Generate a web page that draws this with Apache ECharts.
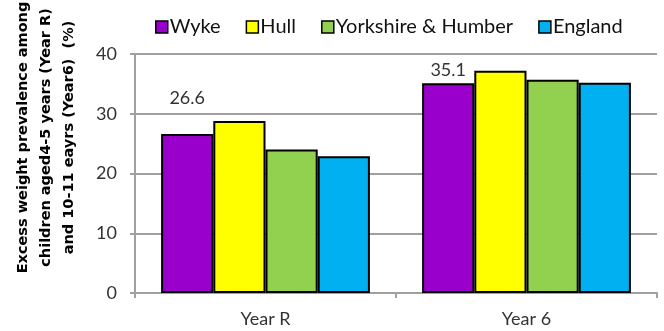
<!DOCTYPE html>
<html>
<head>
<meta charset="utf-8">
<script src="https://cdn.jsdelivr.net/npm/echarts@6/dist/echarts.min.js"></script>
<style>
  html, body { margin: 0; padding: 0; background: #fff; }
  #chart { width: 664px; height: 331px; }
</style>
</head>
<body>
<div id="chart"></div>
<script>
// Excess weight prevalence by area, Reception (Year R) and Year 6
const categories = ['Year R', 'Year 6'];
const seriesNames = ['Wyke', 'Hull', 'Yorkshire & Humber', 'England'];
const wyke = [26.6, 35.1];
const hull = [28.8, 37.2];
const yorkshire = [24.0, 35.7];
const england = [22.9, 35.2];
const yTicks = [0, 10, 20, 30, 40];

const colors = ['#9900CC', '#FFFF00', '#92D050', '#00B0F0'];
const values = [wyke, hull, yorkshire, england];
const font = 'Lato, "Open Sans", sans-serif';
const gridColor = '#A0A0A0';

const chart = echarts.init(document.getElementById('chart'));

const series = seriesNames.map((name, i) => ({
  name,
  type: 'bar',
  barGap: '0%',
  barCategoryGap: '20%',
  itemStyle: { color: colors[i], borderColor: '#000', borderWidth: 2 },
  data: values[i].map((v, j) => {
    if (i !== 0) return v;
    // Wyke values are annotated above the bars
    return {
      value: v,
      label: {
        show: true,
        position: 'top',
        distance: 4,
        offset: j === 0 ? [0, -23] : [0, 0],
        color: '#333',
        fontSize: 18,
        fontFamily: font
      }
    };
  })
}));

chart.setOption({
  animation: false,
  color: colors,
  grid: { left: 135, right: 7, top: 54, bottom: 38, containLabel: false, outerBoundsMode: 'none' },
  legend: {
    data: seriesNames,
    top: 12,
    left: 150,
    itemGap: 25,
    itemWidth: 12,
    itemHeight: 12,
    icon: 'rect',
    itemStyle: { borderColor: '#000', borderWidth: 1.5 },
    textStyle: { fontSize: 20, color: '#111', fontFamily: font, padding: [0, 0, 0, -3] }
  },
  xAxis: {
    type: 'category',
    data: categories,
    axisLine: { lineStyle: { color: gridColor, width: 2 } },
    axisTick: { show: true, length: 5, lineStyle: { color: gridColor, width: 2 } },
    axisLabel: { fontSize: 18, color: '#333', fontFamily: font, margin: 17 }
  },
  yAxis: {
    type: 'value',
    min: yTicks[0],
    max: yTicks[yTicks.length - 1],
    interval: 10,
    name: 'Excess weight prevalence among\nchildren aged4-5 years (Year R)\nand 10-11 eayrs (Year6)  (%)',
    nameLocation: 'middle',
    nameRotate: 90,
    nameGap: 54,
    nameTextStyle: {
      fontSize: 14.5,
      fontWeight: 'bold',
      color: '#000',
      fontFamily: '"DejaVu Sans", sans-serif',
      lineHeight: 23,
      padding: [0, 0, 0, 72]
    },
    axisLine: { show: true, lineStyle: { color: gridColor, width: 2 } },
    axisTick: { show: true, length: 5, lineStyle: { color: gridColor, width: 2 } },
    axisLabel: { fontSize: 18, color: '#333', fontFamily: font, margin: 18 },
    splitLine: { lineStyle: { color: gridColor, width: 2 } }
  },
  series
});
</script>
</body>
</html>
